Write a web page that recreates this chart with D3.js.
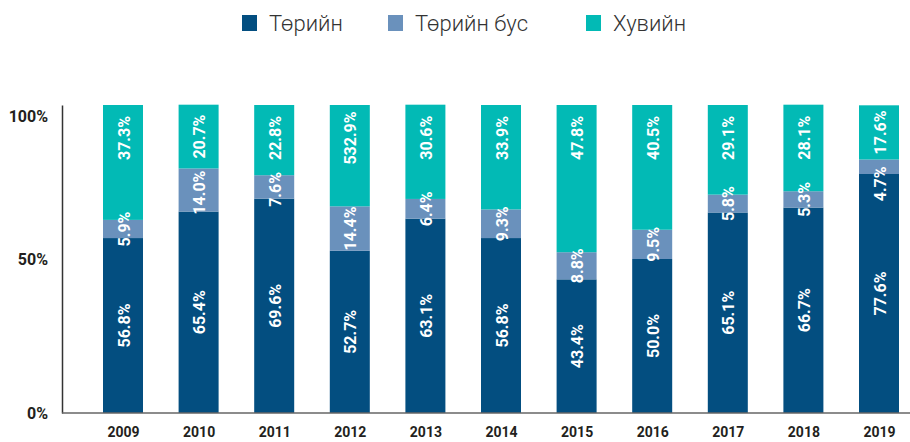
<!DOCTYPE html>
<html>
<head>
<meta charset="utf-8">
<script src="https://cdn.jsdelivr.net/npm/d3@7"></script>
<style>
  html, body { margin: 0; padding: 0; background: #fff; }
  svg { display: block; }
</style>
</head>
<body>
<svg id="chart" width="910" height="442"></svg>
<script>
// Ownership structure by year (share of total, %)
const years = ["2009", "2010", "2011", "2012", "2013", "2014", "2015", "2016", "2017", "2018", "2019"];
const stateShare = [56.8, 65.4, 69.6, 52.7, 63.1, 56.8, 43.4, 50.0, 65.1, 66.7, 77.6];
const nonStateShare = [5.9, 14.0, 7.6, 14.4, 6.4, 9.3, 8.8, 9.5, 5.8, 5.3, 4.7];
const privateShare = [37.3, 20.7, 22.8, 32.9, 30.6, 33.9, 47.8, 40.5, 29.1, 28.1, 17.6];
// Printed text of the private-share labels (2012 is printed as published)
const privateLabels = ["37.3%", "20.7%", "22.8%", "532.9%", "30.6%", "33.9%", "47.8%", "40.5%", "29.1%", "28.1%", "17.6%"];
const seriesNames = ["Төрийн", "Төрийн бус", "Хувийн"];
const yTicks = [0, 50, 100];

const keys = ["state", "nonState", "private"];
const colors = ["#034e80", "#6a91bc", "#02bab5"];

const rows = years.map((y, i) => ({
  year: y,
  state: stateShare[i],
  nonState: nonStateShare[i],
  private: privateShare[i],
  privateLabel: privateLabels[i]
}));

const svg = d3.select("#chart");
const axisX0 = 62, axisX1 = 910, plotTop = 105, plotBottom = 413;

const x = d3.scalePoint().domain(years).range([123, 879]);
const barW = 40;
const y = d3.scaleLinear().domain([0, 100]).range([plotBottom, plotTop]);
const color = d3.scaleOrdinal().domain(keys).range(colors);

const stacked = d3.stack().keys(keys)(rows);

// Bars
const layers = svg.append("g").selectAll("g")
  .data(stacked).join("g")
  .attr("fill", d => color(d.key));

layers.selectAll("rect")
  .data(d => d)
  .join("rect")
  .attr("x", d => x(d.data.year) - barW / 2)
  .attr("width", barW)
  .attr("y", d => y(d[1]))
  .attr("height", d => y(d[0]) - y(d[1]));

// Value labels, rotated inside the bars (drawn above every bar segment)
const fmt = v => d3.format(".1f")(v) + "%";
const font = "Roboto, 'Open Sans', 'DejaVu Sans', sans-serif";
const labelLayer = svg.append("g");
const labelText = (key, d) => key === "private" ? d.data.privateLabel : fmt(d.data[key]);

// Lower edge of each top label, so the middle label can clear it
const topLabelBottom = {};

["private", "nonState", "state"].forEach(key => {
  const layer = stacked.find(s => s.key === key);
  labelLayer.append("g").selectAll("text")
    .data(layer)
    .join("text")
    .attr("text-anchor", "middle")
    .attr("dominant-baseline", "central")
    .attr("fill", "#fff")
    .style("font-family", font)
    .style("font-weight", 700)
    .style("font-size", "16px")
    .text(d => labelText(key, d))
    .attr("transform", function (d) {
      const len = this.getComputedTextLength();
      const cx = x(d.data.year);
      const mid = (y(d[0]) + y(d[1])) / 2;
      let cy = mid;
      if (key === "private") {
        // keep the label near the top of the bar
        cy = Math.min(mid, y(d[1]) + 33);
        topLabelBottom[d.data.year] = cy + len / 2;
      } else if (key === "nonState") {
        cy = Math.max(mid, topLabelBottom[d.data.year] + 12 + len / 2);
      }
      return `translate(${cx + 1},${cy}) rotate(-90)`;
    });
});

// Y axis
const yAxis = svg.append("g")
  .attr("transform", `translate(${axisX0},0)`)
  .call(d3.axisLeft(y).tickValues(yTicks).tickSize(0).tickPadding(14).tickFormat(d => d + "%"));
yAxis.select(".domain").attr("stroke", "#333").attr("stroke-width", 1.5);
yAxis.selectAll(".tick text")
  .attr("fill", "#231f20")
  .style("font-family", font)
  .style("font-weight", 700)
  .style("font-size", "16px")
  .attr("dy", d => d === 100 ? "1.0em" : "0.35em");

// X axis
const xAxis = svg.append("g")
  .attr("transform", `translate(0,${plotBottom})`)
  .call(d3.axisBottom(x).tickSize(0).tickPadding(14));
xAxis.select(".domain").remove();
xAxis.append("line")
  .attr("x1", axisX0).attr("x2", axisX1)
  .attr("stroke", "#666").attr("stroke-width", 1.5);
xAxis.selectAll(".tick text")
  .attr("fill", "#231f20")
  .style("font-family", font)
  .style("font-weight", 700)
  .style("font-size", "14px");

// Legend
const legendX = [242, 388, 586];
const legend = svg.append("g").attr("class", "legend");
const items = legend.selectAll("g").data(seriesNames).join("g")
  .attr("transform", (d, i) => `translate(${legendX[i]},0)`);
items.append("rect")
  .attr("width", 15).attr("height", 16)
  .attr("y", 15)
  .attr("fill", (d, i) => colors[i]);
items.append("text")
  .attr("x", 27)
  .attr("y", 31)
  .attr("fill", "#333")
  .style("font-family", font)
  .style("font-weight", 300)
  .style("font-size", "22px")
  .text(d => d);
</script>
</body>
</html>
